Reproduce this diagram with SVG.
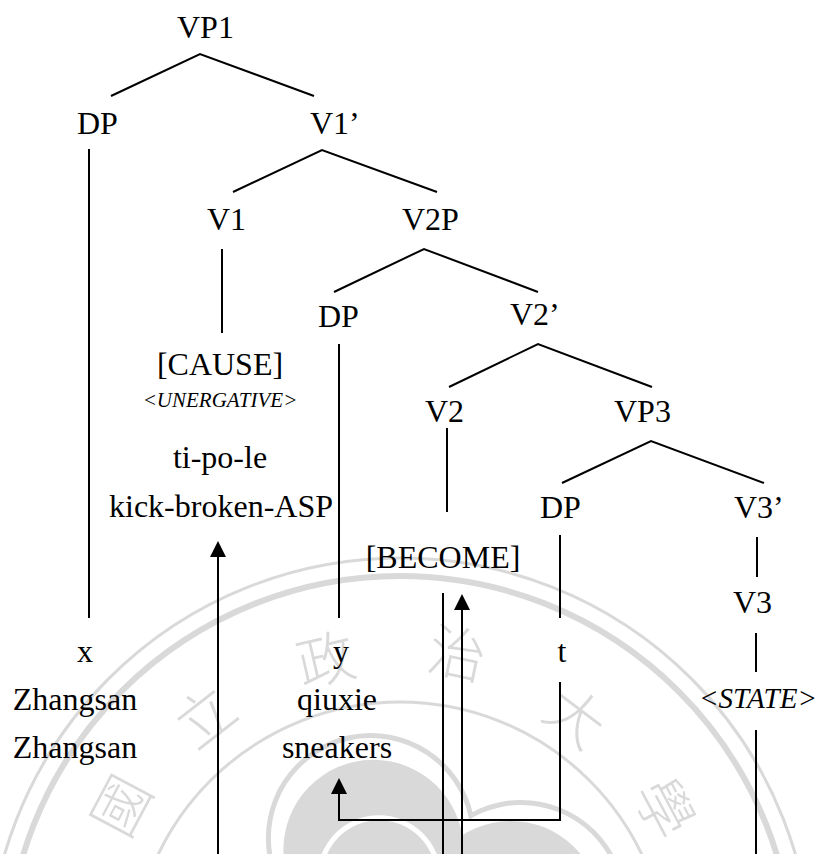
<svg xmlns="http://www.w3.org/2000/svg" width="819" height="854" viewBox="0 0 819 854">
<defs>
<style>
.t{font-family:"Liberation Serif","Times New Roman",serif;font-size:32px;fill:#000}
.m{text-anchor:middle}
.it{font-style:italic}
.ln{stroke:#000;stroke-width:2;fill:none}
.wm{fill:none;stroke:#d9d9d9}
.wc{font-family:"Noto Sans CJK TC","Noto Sans CJK SC",sans-serif;font-weight:300;font-size:58px;fill:#d9d9d9;text-anchor:middle;dominant-baseline:central}
</style>
<marker id="ah" markerUnits="userSpaceOnUse" markerWidth="16" markerHeight="16" viewBox="0 0 16 16" refX="12" refY="8" orient="auto">
<path d="M0,0 L16,8 L0,16 z" fill="#000"/>
</marker>
</defs>
<rect width="819" height="854" fill="#fff"/>
<g id="watermark">
<circle class="wm" cx="400" cy="970" r="412" stroke-width="3"/>
<circle class="wm" cx="400" cy="970" r="394" stroke-width="6"/>
<circle class="wm" cx="400" cy="970" r="268" stroke-width="3"/>
<g fill="#d9d9d9" transform="translate(400,975) rotate(-12)">
<circle r="165"/><circle cx="0" cy="-140" r="105"/><circle cx="133.1" cy="-43.3" r="105"/><circle cx="82.3" cy="113.3" r="105"/><circle cx="-82.3" cy="113.3" r="105"/><circle cx="-133.1" cy="-43.3" r="105"/>
</g>
<g fill="#fff" transform="translate(400,975) rotate(-12)">
<circle r="160"/><circle cx="0" cy="-140" r="100"/><circle cx="133.1" cy="-43.3" r="100"/><circle cx="82.3" cy="113.3" r="100"/><circle cx="-82.3" cy="113.3" r="100"/><circle cx="-133.1" cy="-43.3" r="100"/>
</g>
<g fill="#d9d9d9" transform="translate(400,975) rotate(-12)">
<circle r="145"/><circle cx="0" cy="-128" r="90"/><circle cx="121.7" cy="-39.6" r="90"/><circle cx="75.2" cy="103.6" r="90"/><circle cx="-75.2" cy="103.6" r="90"/><circle cx="-121.7" cy="-39.6" r="90"/>
</g>
<g fill="#fff" transform="translate(400,975) rotate(-12)">
<circle r="105"/><circle cx="0" cy="-100" r="62"/><circle cx="95.1" cy="-30.9" r="62"/><circle cx="58.8" cy="80.9" r="62"/><circle cx="-58.8" cy="80.9" r="62"/><circle cx="-95.1" cy="-30.9" r="62"/>
</g>
<g fill="#d9d9d9" transform="translate(400,975) rotate(-12)">
<circle r="100"/><circle cx="0" cy="-100" r="57"/><circle cx="95.1" cy="-30.9" r="57"/><circle cx="58.8" cy="80.9" r="57"/><circle cx="-58.8" cy="80.9" r="57"/><circle cx="-95.1" cy="-30.9" r="57"/>
</g>
<text class="wc" transform="translate(118,804) rotate(-62)">國</text>
<text class="wc" transform="translate(203,714) rotate(-38)">立</text>
<text class="wc" transform="translate(325,656) rotate(-13)">政</text>
<text class="wc" transform="translate(458,650) rotate(12)">治</text>
<text class="wc" transform="translate(578,714) rotate(37)">大</text>
<text class="wc" transform="translate(668,806) rotate(62)">學</text>
</g>
<g id="connectors">
<path class="ln" d="M111,96 L200,54 L314,96"/>
<path class="ln" d="M233,192 L322,150 L437,192"/>
<path class="ln" d="M334,292 L424,249 L538,292"/>
<path class="ln" d="M449,387 L538,344 L652,387"/>
<path class="ln" d="M562,483 L651,441 L764,483"/>
<line class="ln" x1="89" y1="149" x2="89" y2="618"/>
<line class="ln" x1="222" y1="249" x2="222" y2="333"/>
<line class="ln" x1="339" y1="344" x2="339" y2="618"/>
<line class="ln" x1="447" y1="428" x2="447" y2="512"/>
<line class="ln" x1="560" y1="535" x2="560" y2="618"/>
<line class="ln" x1="757" y1="537" x2="757" y2="577"/>
<line class="ln" x1="756" y1="633" x2="756" y2="672"/>
<line class="ln" x1="756" y1="730" x2="756" y2="854"/>
<line class="ln" x1="443" y1="593" x2="443" y2="854"/>
<path class="ln" d="M218,854 L218,545" marker-end="url(#ah)"/>
<path class="ln" d="M462,854 L462,598" marker-end="url(#ah)"/>
<path class="ln" d="M560,682 L560,820 L339,820 L339,782" marker-end="url(#ah)"/>
</g>
<g id="VP1"><text class="t" x="177" y="38">VP1</text></g>
<g id="DP1"><text class="t" x="77" y="134">DP</text></g>
<g id="V1bar"><text class="t" x="310" y="134">V1’</text></g>
<g id="V1"><text class="t" x="207" y="230">V1</text></g>
<g id="V2P"><text class="t" x="402" y="230">V2P</text></g>
<g id="DP2"><text class="t" x="318" y="327">DP</text></g>
<g id="V2bar"><text class="t" x="510" y="325">V2’</text></g>
<g id="CAUSE">
<text class="t m" x="220" y="375">[CAUSE]</text>
<text class="t m it" x="220" y="407" style="font-size:21px">&lt;UNERGATIVE&gt;</text>
<text class="t m" x="220" y="468">ti-po-le</text>
<text class="t m" x="221" y="517">kick-broken-ASP</text>
</g>
<g id="V2"><text class="t" x="425" y="422">V2</text></g>
<g id="VP3"><text class="t" x="614" y="422">VP3</text></g>
<g id="DP3"><text class="t" x="540" y="518">DP</text></g>
<g id="V3bar"><text class="t" x="734" y="518">V3’</text></g>
<g id="BECOME"><text class="t m" x="443" y="568">[BECOME]</text></g>
<g id="V3"><text class="t" x="733" y="613">V3</text></g>
<g id="STATE"><text class="t m it" x="758" y="708" style="font-size:29px">&lt;STATE&gt;</text></g>
<g id="x">
<text class="t m" x="85" y="662">x</text>
<text class="t m" x="75" y="710">Zhangsan</text>
<text class="t m" x="75" y="758">Zhangsan</text>
</g>
<g id="y">
<text class="t m" x="341" y="662">y</text>
<text class="t m" x="337" y="710">qiuxie</text>
<text class="t m" x="337" y="758">sneakers</text>
</g>
<g id="tnode"><text class="t m" x="562" y="662">t</text></g>
</svg>
